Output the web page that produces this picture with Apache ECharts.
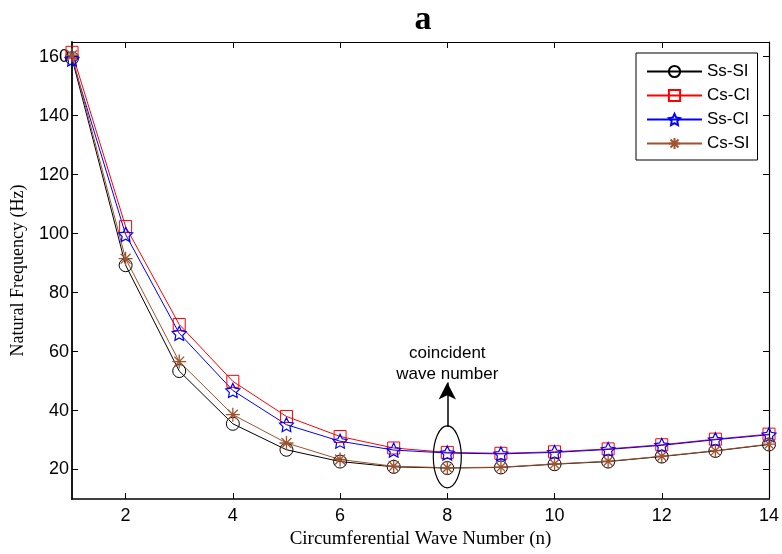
<!DOCTYPE html>
<html>
<head>
<meta charset="utf-8">
<script src="https://cdn.jsdelivr.net/npm/echarts@6/dist/echarts.min.js"></script>
<style>
html,body{margin:0;padding:0;background:#fff;}
#chart{width:782px;height:554px;}
</style>
</head>
<body>
<div id="chart"></div>
<script>
// ---- data ----
const waveNumbers = [1,2,3,4,5,6,7,8,9,10,11,12,13,14];
const ssSI = [159.5, 89.3, 53.4, 35.5, 26.7, 22.7, 20.9, 20.5, 20.7, 21.8, 22.7, 24.4, 26.3, 28.5];
const csCl = [161.5, 102.4, 69.2, 49.9, 38.0, 31.2, 27.3, 25.8, 25.5, 26.0, 27.0, 28.4, 30.3, 32.0];
const ssCl = [159.2, 99.7, 66.2, 46.8, 35.2, 29.6, 26.6, 25.6, 25.3, 25.8, 26.8, 28.2, 30.1, 31.8];
const csSI = [160.5, 91.5, 56.6, 38.6, 29.0, 23.4, 21.1, 20.6, 20.8, 21.9, 22.8, 24.5, 26.4, 28.6];
const seriesNames = ['Ss-SI', 'Cs-Cl', 'Ss-Cl', 'Cs-SI'];
const xTicks = [2,4,6,8,10,12,14];
const yTicks = [20,40,60,80,100,120,140,160];
const titleText = 'a';
const xName = 'Circumferential Wave Number (n)';
const yName = 'Natural Frequency (Hz)';
const noteLines = ['coincident', 'wave number'];
const coincidentN = 8;
const arrowFrom = 34.4, arrowTo = 49.5, ellipseCenter = 24.3;

const STAR = 'path://M0,-10 L2.94,-4.05 L9.51,-3.09 L4.76,1.55 L5.88,8.09 L0,5 L-5.88,8.09 L-4.76,1.55 L-9.51,-3.09 L-2.94,-4.05 Z';
const AST = 'path://M0,-10 L0,10 M-10,0 L10,0 M-7.07,-7.07 L7.07,7.07 M-7.07,7.07 L7.07,-7.07';

function pairs(ys){ return waveNumbers.map((x,i)=>[x, ys[i]]); }

function mk(name, ys, color, symbol, size, bw){
  return {
    name: name, type: 'line', data: pairs(ys),
    symbol: symbol, symbolSize: size, showSymbol: true,
    lineStyle: {color: color, width: 1},
    itemStyle: {color: 'rgba(0,0,0,0)', borderColor: color, borderWidth: bw || 1},
    emphasis: {disabled: true},
    z: 3
  };
}

const chart = echarts.init(document.getElementById('chart'), null, {renderer: 'canvas'});
const series = [
  mk(seriesNames[0], ssSI, '#000000', 'circle', 13),
  mk(seriesNames[1], csCl, '#ff0000', 'rect', 12),
  mk(seriesNames[2], ssCl, '#0000ff', STAR, 14, 1.2),
  mk(seriesNames[3], csSI, '#a0522d', AST, 14, 1.3)
];
series[0].markLine = {
  silent: true, symbol: ['none', 'arrow'], symbolSize: [13, 17],
  lineStyle: {color: '#000', width: 1.5, type: 'solid'},
  label: {show: false},
  data: [[{coord: [coincidentN, arrowFrom]}, {coord: [coincidentN, arrowTo]}]]
};

function line(w){ return {show: true, onZero: false, lineStyle: {color: '#000', width: w}}; }

chart.setOption({
  animation: false,
  backgroundColor: '#fff',
  title: {
    text: titleText, left: 418, top: -2, textAlign: 'center',
    textStyle: {fontFamily: 'Liberation Serif', fontWeight: 'bold', fontSize: 34, color: '#000'}
  },
  grid: {left: 72, right: 9, top: 42, bottom: 52, containLabel: false},
  legend: {
    data: seriesNames,
    orient: 'vertical', left: 636, top: 53,
    itemWidth: 55, itemHeight: 14, itemGap: 7,
    padding: [10, 8, 8, 10],
    borderColor: '#000', borderWidth: 1, backgroundColor: '#fff',
    textStyle: {fontFamily: 'Liberation Sans', fontSize: 17, color: '#000'},
    selectedMode: false
  },
  xAxis: [
    {
      type: 'value', min: 1, max: 14, position: 'bottom',
      axisLine: line(1.6), splitLine: {show: false},
      name: xName, nameLocation: 'middle', nameGap: 31,
      nameTextStyle: {fontFamily: 'Liberation Serif', fontSize: 19, color: '#000'},
      axisTick: {show: true, inside: true, length: 6, customValues: xTicks, lineStyle: {color: '#000'}},
      axisLabel: {show: true, customValues: xTicks, margin: 8, fontFamily: 'Liberation Sans', fontSize: 18, color: '#000'}
    },
    {
      type: 'value', min: 1, max: 14, position: 'top',
      axisLine: line(1.2), splitLine: {show: false},
      axisTick: {show: true, inside: true, length: 6, customValues: xTicks, lineStyle: {color: '#000'}},
      axisLabel: {show: false}
    }
  ],
  yAxis: [
    {
      type: 'value', min: 10, max: 165, position: 'left',
      axisLine: line(1.8), splitLine: {show: false},
      name: yName, nameLocation: 'middle', nameGap: 45,
      nameTextStyle: {fontFamily: 'Liberation Serif', fontSize: 18, color: '#000'},
      axisTick: {show: true, inside: true, length: 6, customValues: yTicks, lineStyle: {color: '#000'}},
      axisLabel: {show: true, customValues: yTicks, margin: 3, fontFamily: 'Liberation Sans', fontSize: 18, color: '#000'}
    },
    {
      type: 'value', min: 10, max: 165, position: 'right',
      axisLine: line(1.2), splitLine: {show: false},
      axisTick: {show: true, inside: true, length: 6, customValues: yTicks, lineStyle: {color: '#000'}},
      axisLabel: {show: false}
    }
  ],
  series: series
});

const c = chart.convertToPixel({xAxisIndex: 0, yAxisIndex: 0}, [coincidentN, ellipseCenter]);
const t = chart.convertToPixel({xAxisIndex: 0, yAxisIndex: 0}, [coincidentN, arrowTo]);
chart.setOption({
  graphic: [
    {type: 'ellipse', shape: {cx: c[0], cy: c[1], rx: 14, ry: 31},
     style: {fill: 'none', stroke: '#000', lineWidth: 1.2}, z: 10, silent: true},
    {type: 'text', x: t[0], y: t[1] + 2,
     style: {text: noteLines.join('\n'), align: 'center', verticalAlign: 'bottom',
             font: '17px "Liberation Sans"', fill: '#000', lineHeight: 21}, z: 10, silent: true}
  ]
});
</script>
</body>
</html>
